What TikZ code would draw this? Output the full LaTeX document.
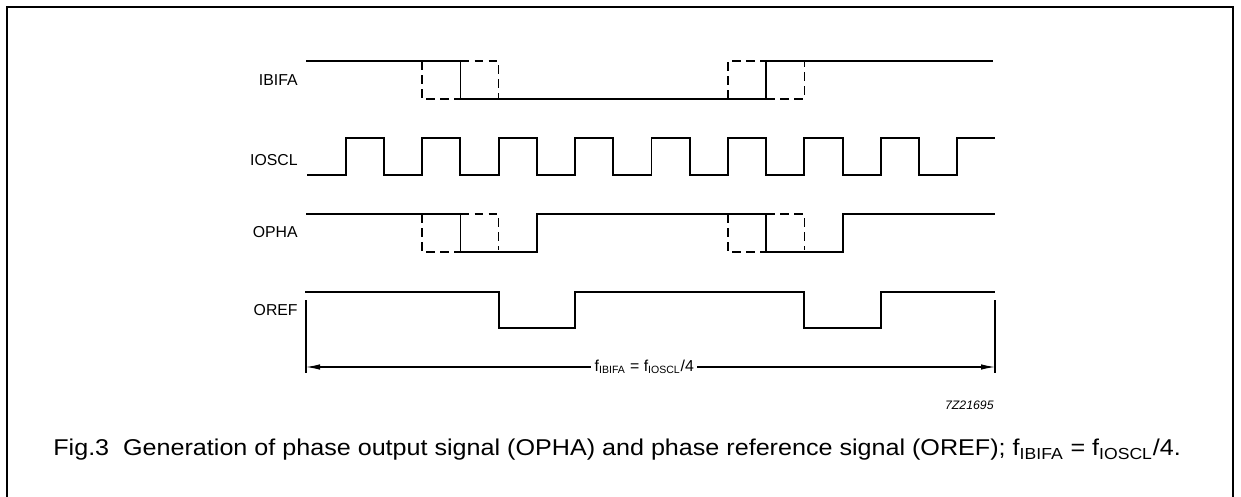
\documentclass[tikz,border=0pt]{standalone}
\usepackage{fontspec}
\setmainfont{Liberation Sans}
\newfontfamily\capfont[FakeStretch=1.1]{Liberation Sans}
\usepackage{tikz}
\usetikzlibrary{arrows.meta}
\tikzset{
  wave/.style={line width=1.1pt,line join=miter},
  ghost/.style={line width=1pt,dash pattern=on 5pt off 3pt},
  signame/.style={anchor=east,inner sep=0pt,font=\fontsize{9}{10}\selectfont},
}

\begin{document}
\begin{tikzpicture}[x=0.02cm,y=-0.02cm]
    \useasboundingbox (0,0) rectangle (1241,497);
    % frame
    \draw[line width=0.9pt] (7,497) -- (7,7) -- (1233,7) -- (1233,497);
    % signal names
    \node[signame] (ibifa) at (298,80) {IBIFA};
    \node[signame] (ioscl) at (298,160) {IOSCL};
    \node[signame] (opha) at (298,232) {OPHA};
    \node[signame] (oref) at (298,310) {OREF};
    % IBIFA
    \draw[wave] (306,61) -- (460.5,61) -- (460.5,99) -- (766.3,99) -- (766.3,61) -- (993,61);
    \draw[ghost] (422.2,61) -- (422.2,99) -- (460.5,99);
    \draw[ghost] (460.5,61) -- (498.6,61) -- (498.6,99);
    \draw[ghost] (728.0,99) -- (728.0,61) -- (766.3,61);
    \draw[ghost] (766.3,99) -- (804.4,99) -- (804.4,61);
    % IOSCL
    \draw[wave] (307,175) \foreach \k in {0,...,7} {
        -- ({345.7+76.45*\k},175) -- ++(0,-37) -- ({384+76.45*\k},138) -- ++(0,37)}
      -- (957.3,175) -- (957.3,138) -- (995,138);
    % OPHA
    \draw[wave] (306,214) -- (460.5,214) -- (460.5,252) -- (536.9,252) -- (536.9,214)
      -- (766.3,214) -- (766.3,252) -- (842.7,252) -- (842.7,214) -- (995,214);
    \draw[ghost] (422.2,214) -- (422.2,252) -- (460.5,252);
    \draw[ghost] (460.5,214) -- (498.6,214) -- (498.6,250);
    \draw[ghost] (728.0,214) -- (728.0,252) -- (766.3,252);
    \draw[ghost] (766.3,214) -- (804.4,214) -- (804.4,250);
    % OREF
    \draw[wave] (305,292) -- (498.6,292) -- (498.6,328) -- (575.1,328) -- (575.1,292)
      -- (804.4,292) -- (804.4,328) -- (880.9,328) -- (880.9,292) -- (995,292);
    % period
    \coordinate (tl) at (306,300);
    \coordinate (tr) at (995,300);
    \coordinate (dl) at (306,367);
    \coordinate (dr) at (995,367);
    \draw[line width=0.6pt] (tl) -- ++(0,73) (tr) -- ++(0,73);
    \draw[line width=0.6pt,{Latex[length=2.8mm,width=1.1mm]}-{Latex[length=2.8mm,width=1.1mm]}] (dl) -- (dr)
      node[pos=0.491,fill=white,inner sep=2pt,font=\fontsize{9}{10}\selectfont] (dim)
      {f\textsubscript{IBIFA} = f\textsubscript{IOSCL}/4};
    \node[anchor=east,inner sep=0pt,font=\fontsize{7}{8}\selectfont\itshape] (code) at (994,405) {7Z21695};
    % caption
    \node[anchor=west,inner sep=0pt,font=\capfont\fontsize{13}{15}\selectfont] (caption) at (53,450)
      {Fig.3\ \ Generation of phase output signal (OPHA) and phase reference signal (OREF); f\textsubscript{IBIFA} = f\textsubscript{IOSCL}/4.};
\end{tikzpicture}
\end{document}
